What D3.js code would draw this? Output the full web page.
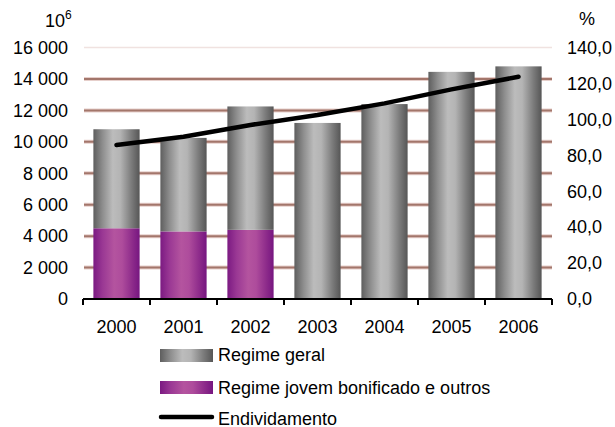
<!DOCTYPE html>
<html>
<head>
<meta charset="utf-8">
<script src="https://cdn.jsdelivr.net/npm/d3@7"></script>
<style>
  html, body { margin: 0; padding: 0; background: #fff; }
  svg { display: block; font-family: "Liberation Sans", Arial, sans-serif; }
</style>
</head>
<body>
<svg id="chart" width="615" height="427"></svg>
<script>
// data
var years = ['2000', '2001', '2002', '2003', '2004', '2005', '2006'];
var regimeJovem = [4500, 4300, 4400, 0, 0, 0, 0];
var regimeGeral = [6300, 5950, 7850, 11200, 12400, 14450, 14800];
var endividamento = [85.7, 90.3, 96.9, 102.4, 108.9, 116.7, 123.7];
var leftTicks = [0, 2000, 4000, 6000, 8000, 10000, 12000, 14000, 16000];
var rightTicks = [0, 20, 40, 60, 80, 100, 120, 140];
var legendLabels = ['Regime geral', 'Regime jovem bonificado e outros', 'Endividamento'];

(function () {
  'use strict';

  var svg = d3.select('#chart');
  var left = 83, right = 552, top = 47.5, bottom = 299;

  var pt = d3.formatLocale({ decimal: ',', thousands: ' ', grouping: [3], currency: ['', ''] });
  var fmtLeft = pt.format(',.0f');
  var fmtRight = pt.format('.1f');

  var x = d3.scaleBand().domain(years).range([left, right])
            .paddingInner(0.31).paddingOuter(0.155);
  var y = d3.scaleLinear().domain([0, 16000]).range([bottom, top]);
  var y2 = d3.scaleLinear().domain([0, 140]).range([bottom, top]);

  // gradients
  var defs = svg.append('defs');
  var grad = function (id, stops) {
    var g = defs.append('linearGradient').attr('id', id)
                .attr('x1', '0%').attr('x2', '100%').attr('y1', '0%').attr('y2', '0%');
    stops.forEach(function (s) {
      g.append('stop').attr('offset', s[0]).attr('stop-color', s[1]);
    });
  };
  grad('gray', [['0%', '#5e5e5e'], ['20%', '#8e8e8e'], ['42%', '#bcbcbc'], ['58%', '#b4b4b4'], ['82%', '#7c7c7c'], ['100%', '#565656']]);
  grad('purple', [['0%', '#7b1a82'], ['20%', '#9a3894'], ['45%', '#b4549f'], ['62%', '#ae4c9c'], ['85%', '#8c2a8a'], ['100%', '#761680']]);

  // gridlines
  var grid = svg.append('g');
  leftTicks.slice(1).forEach(function (t) {
    var last = t === 16000;
    grid.append('line')
      .attr('x1', left + 1).attr('x2', right)
      .attr('y1', y(t)).attr('y2', y(t))
      .attr('stroke', last ? '#f0e2e0' : '#e6cfcb').attr('stroke-width', last ? 1.5 : 4);
    if (!last) {
      grid.append('line')
        .attr('x1', left + 1).attr('x2', right)
        .attr('y1', y(t)).attr('y2', y(t))
        .attr('stroke', '#a3766b').attr('stroke-width', 2);
    }
  });

  // bars
  var bars = svg.append('g');
  bars.selectAll('rect.jovem').data(years).enter().append('rect')
    .attr('class', 'jovem')
    .attr('x', function (d) { return x(d); })
    .attr('width', x.bandwidth())
    .attr('y', function (d, i) { return y(regimeJovem[i]); })
    .attr('height', function (d, i) { return y(0) - y(regimeJovem[i]); })
    .attr('fill', 'url(#purple)');

  bars.selectAll('rect.geral').data(years).enter().append('rect')
    .attr('class', 'geral')
    .attr('x', function (d) { return x(d); })
    .attr('width', x.bandwidth())
    .attr('y', function (d, i) { return y(regimeJovem[i] + regimeGeral[i]); })
    .attr('height', function (d, i) { return y(regimeJovem[i]) - y(regimeJovem[i] + regimeGeral[i]); })
    .attr('fill', 'url(#gray)');

  // x axis
  var xAxis = svg.append('g');
  xAxis.append('line')
    .attr('x1', left).attr('x2', right).attr('y1', bottom).attr('y2', bottom)
    .attr('stroke', '#000').attr('stroke-width', 2);
  var bounds = years.map(function (d) { return x(d) - x.step() * 0.155; }).concat([right]);
  bounds.forEach(function (bx) {
    xAxis.append('line')
      .attr('x1', bx).attr('x2', bx).attr('y1', bottom).attr('y2', bottom + 6)
      .attr('stroke', '#000').attr('stroke-width', 2);
  });
  xAxis.selectAll('text').data(years).enter().append('text')
    .attr('x', function (d) { return x(d) + x.bandwidth() / 2; })
    .attr('y', 333)
    .attr('text-anchor', 'middle')
    .attr('font-size', 18)
    .text(function (d) { return d; });

  // left labels
  svg.append('g').selectAll('text').data(leftTicks).enter().append('text')
    .attr('x', 68).attr('y', function (d) { return y(d); })
    .attr('dy', '0.35em')
    .attr('text-anchor', 'end')
    .attr('font-size', 18)
    .text(fmtLeft);

  // right labels
  svg.append('g').selectAll('text').data(rightTicks).enter().append('text')
    .attr('x', 567).attr('y', function (d) { return y2(d); })
    .attr('dy', '0.35em')
    .attr('font-size', 18)
    .text(fmtRight);

  // unit labels
  var unit = svg.append('text').attr('x', 45).attr('y', 27).attr('font-size', 18);
  unit.append('tspan').text('10');
  unit.append('tspan').attr('font-size', 12).attr('dy', -8).text('6');
  svg.append('text').attr('x', 579).attr('y', 25).attr('font-size', 18).text('%');

  // debt line
  var line = d3.line()
    .x(function (d, i) { return x(years[i]) + x.bandwidth() / 2; })
    .y(function (d) { return y2(d); });
  svg.append('path')
    .datum(endividamento)
    .attr('d', line)
    .attr('fill', 'none')
    .attr('stroke', '#000')
    .attr('stroke-width', 4.5)
    .attr('stroke-linecap', 'round')
    .attr('stroke-linejoin', 'round');

  // legend
  var legend = svg.append('g');
  legend.append('rect').attr('x', 160).attr('y', 349).attr('width', 53).attr('height', 13).attr('fill', 'url(#gray)');
  legend.append('rect').attr('x', 160).attr('y', 381).attr('width', 53).attr('height', 13).attr('fill', 'url(#purple)');
  legend.append('line').attr('x1', 161).attr('x2', 212).attr('y1', 417).attr('y2', 417)
    .attr('stroke', '#000').attr('stroke-width', 4.5).attr('stroke-linecap', 'round');
  legend.selectAll('text').data(legendLabels).enter().append('text')
    .attr('x', 218)
    .attr('y', function (d, i) { return [361, 393.5, 424.5][i]; })
    .attr('font-size', 18)
    .text(function (d) { return d; });
})();
</script>
</body>
</html>
